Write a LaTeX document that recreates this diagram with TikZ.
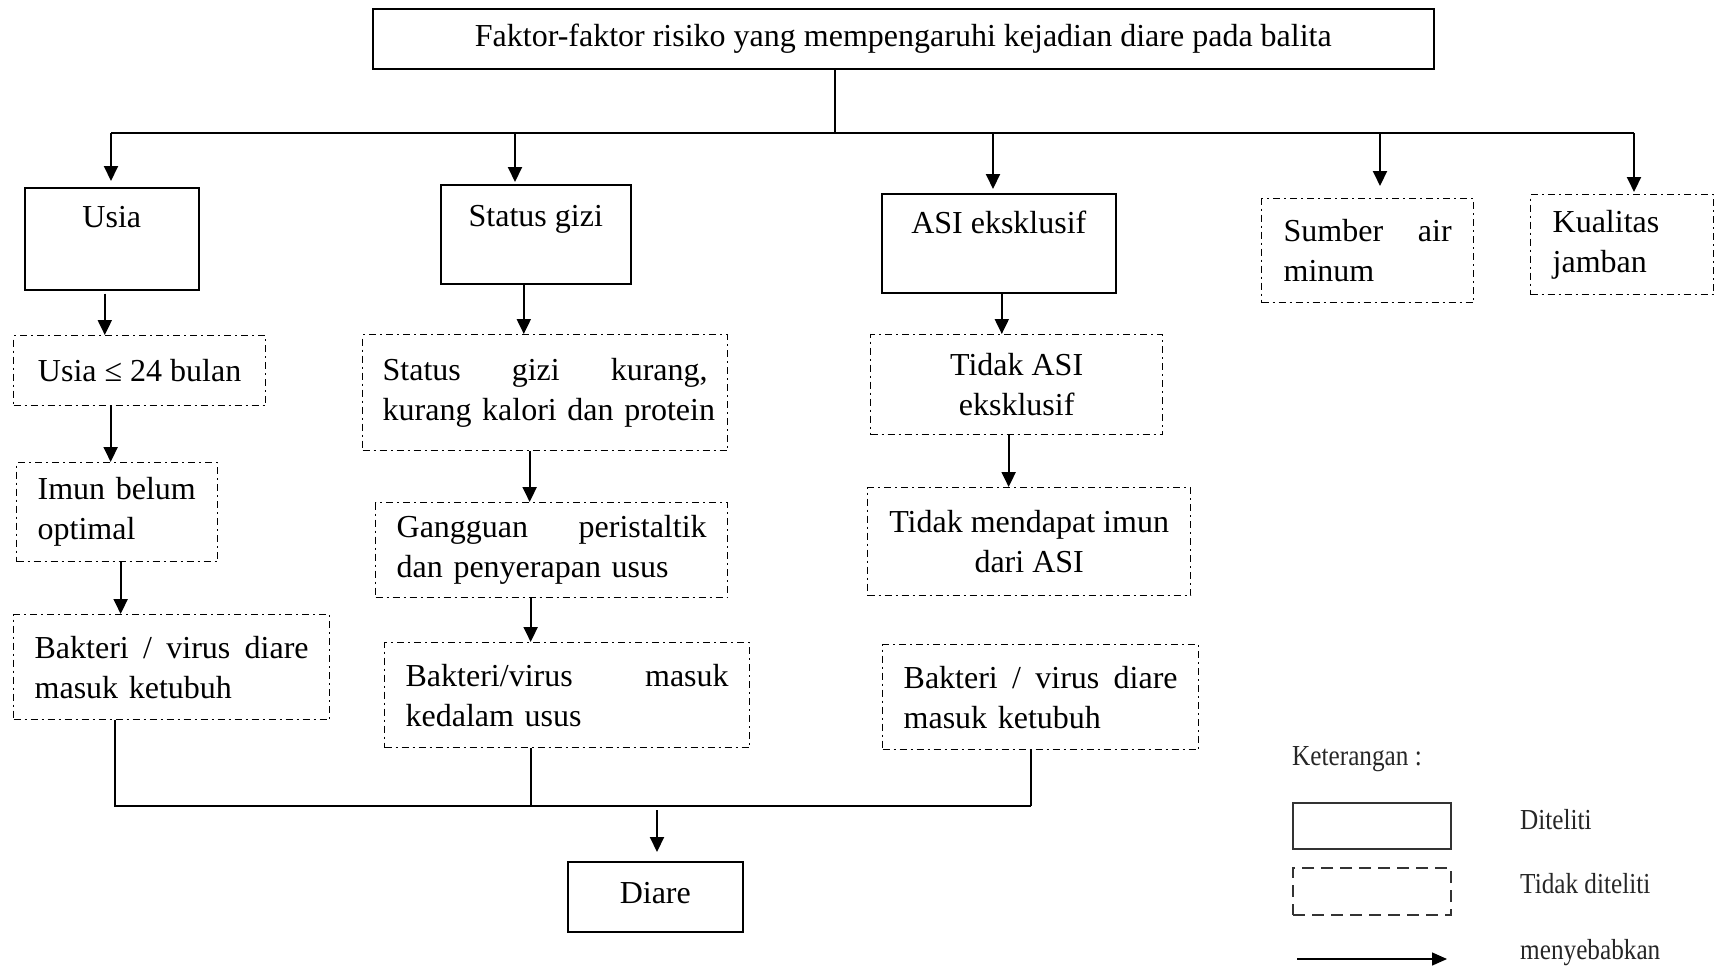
\documentclass[tikz,border=0pt]{standalone}
\usepackage{fontspec}
\setmainfont{Liberation Serif}
\newfontfamily\ketfont[FakeStretch=0.87]{Liberation Serif}
\usetikzlibrary{arrows.meta}

\begin{document}
\begin{tikzpicture}[x=1pt,y=-1pt,
  font=\fontsize{32}{40}\selectfont,
  box/.style={draw,line width=1.6pt,anchor=north west,inner sep=0pt,align=center},
  dbox/.style={draw,line width=1.3pt,dash pattern=on 7pt off 4pt on 2pt off 4pt,
    anchor=north west,inner xsep=21pt,inner ysep=0pt,
    execute at begin node={\hyphenpenalty=10000}},
  arr/.style={line width=2pt,-{Triangle[length=15pt,width=14pt]}},
  line/.style={line width=1.2pt},
  ket/.style={anchor=base west,inner sep=0pt,text=black!85,
    font=\ketfont\fontsize{29}{34}\selectfont},
]
\useasboundingbox (0,0) rectangle (1716,967);

% yang diteliti
\node[box,minimum width=1061pt,minimum height=60pt] (top) at (372,8)
  {Faktor-faktor risiko yang mempengaruhi kejadian diare pada balita};
\node[box,minimum width=174pt,text height=40pt,text depth=62pt] (usia) at (24,187) {Usia};
\node[box,minimum width=190pt,text height=42pt,text depth=57pt] (sgizi) at (440,184) {Status gizi};
\node[box,minimum width=234pt,text height=40pt,text depth=59pt] (asi) at (881,193) {ASI eksklusif};
\node[box,minimum width=175pt,text height=42pt,text depth=28pt] (diare) at (567,861) {Diare};

% yang tidak diteliti
\node[dbox,inner xsep=22pt,text width=168pt,minimum height=104pt,align=left] (sumber) at (1261,198)
  {Sumber\hfill air\\minum};
\node[dbox,inner xsep=22pt,text width=139pt,minimum height=100pt,align=left] (kual) at (1530,194)
  {Kualitas\\jamban};

\node[dbox,minimum width=252pt,minimum height=70pt,align=center] (u24) at (13,335) {Usia ≤ 24 bulan};
\node[dbox,text width=159pt,minimum height=99pt,align=left] (imun) at (16,462) {Imun belum\\optimal};
\node[dbox,text width=274pt,minimum height=105pt,align=left] (bak1) at (13,614)
  {Bakteri\hfill/\hfill virus\hfill diare\\masuk ketubuh};

\node[dbox,inner xsep=20pt,text width=325pt,minimum height=116pt,align=left] (sgk) at (362,334)
  {Status\hfill gizi\hfill kurang,\\\mbox{kurang kalori dan protein}};
\node[dbox,text width=310pt,minimum height=95pt,align=left] (gang) at (375,502)
  {Gangguan\hfill peristaltik\\dan penyerapan usus};
\node[dbox,text width=323pt,minimum height=105pt,align=left] (bak2) at (384,642)
  {Bakteri/virus\hfill masuk\\kedalam usus};

\node[dbox,minimum width=292pt,minimum height=100pt,align=center] (tasi) at (870,334) {Tidak ASI\\eksklusif};
\node[dbox,minimum width=323pt,minimum height=108pt,align=center] (timun) at (867,487)
  {Tidak mendapat imun\\dari ASI};
\node[dbox,text width=274pt,minimum height=105pt,align=left] (bak3) at (882,644)
  {Bakteri\hfill/\hfill virus\hfill diare\\masuk ketubuh};

% percabangan atas
\coordinate (tb) at (835,133);
\coordinate (b1) at (111,133);
\coordinate (b2) at (515,133);
\coordinate (b3) at (993,133);
\coordinate (b4) at (1380,133);
\coordinate (b5) at (1634,133);
\draw[line] (top.south -| tb) -- (tb);
\draw[line] (b1) -- (b5);
\draw[arr,shorten >=6pt] (b1) -- (b1 |- usia.north);
\draw[arr,shorten >=2pt] (b2) -- (b2 |- sgizi.north);
\draw[arr,shorten >=4pt] (b3) -- (b3 |- asi.north);
\draw[arr,shorten >=12pt] (b4) -- (b4 |- sumber.north);
\draw[arr,shorten >=2pt] (b5) -- (b5 |- kual.north);

% alur tiap faktor
\draw[arr,shorten <=3pt] ([xshift=-7pt]usia.south) -- ([xshift=-7pt]usia.south |- u24.north);
\draw[arr] ([xshift=-29pt]u24.south) -- ([xshift=-29pt]u24.south |- imun.north);
\draw[arr] ([xshift=3.5pt]imun.south) -- ([xshift=3.5pt]imun.south |- bak1.north);
\draw[arr] ([xshift=-12pt]sgizi.south) -- ([xshift=-12pt]sgizi.south |- sgk.north);
\draw[arr] ([xshift=-15.5pt]sgk.south) -- ([xshift=-15.5pt]sgk.south |- gang.north);
\draw[arr] ([xshift=-21pt]gang.south) -- ([xshift=-21pt]gang.south |- bak2.north);
\draw[arr] ([xshift=3pt]asi.south) -- ([xshift=3pt]asi.south |- tasi.north);
\draw[arr] ([xshift=-8pt]tasi.south) -- ([xshift=-8pt]tasi.south |- timun.north);

% menuju diare
\coordinate (j1) at (115,806);
\coordinate (j2) at (531,806);
\coordinate (j3) at (1031,806);
\coordinate (jd) at (657,810);
\draw[line] (bak1.south -| j1) -- (j1) -- (j3);
\draw[line] (bak2.south -| j2) -- (j2);
\draw[line] (bak3.south -| j3) -- (j3);
\draw[arr,shorten >=9pt] (jd) -- (jd |- diare.north);

% keterangan
\node[ket] (ket) at (1292,765) {Keterangan :};
\node[draw,line width=2.4pt,black!80,anchor=north west,inner sep=0pt,
  minimum width=158pt,minimum height=46pt] (lsolid) at (1292,802) {};
\node[draw,line width=2.4pt,black!80,dash pattern=on 12pt off 7pt,anchor=north west,inner sep=0pt,
  minimum width=158pt,minimum height=47pt] (ldash) at (1292,867) {};
\coordinate (la) at (1297,959);
\coordinate (lb) at (1447,959);
\draw[line width=1.4pt,-{Triangle[length=15pt,width=13pt]}] (la) -- (lb);
\node[ket] (ldit) at (1520,829) {Diteliti};
\node[ket] (ltdk) at (1520,893) {Tidak diteliti};
\node[ket] (lseb) at (1520,959) {menyebabkan};
\end{tikzpicture}
\end{document}
